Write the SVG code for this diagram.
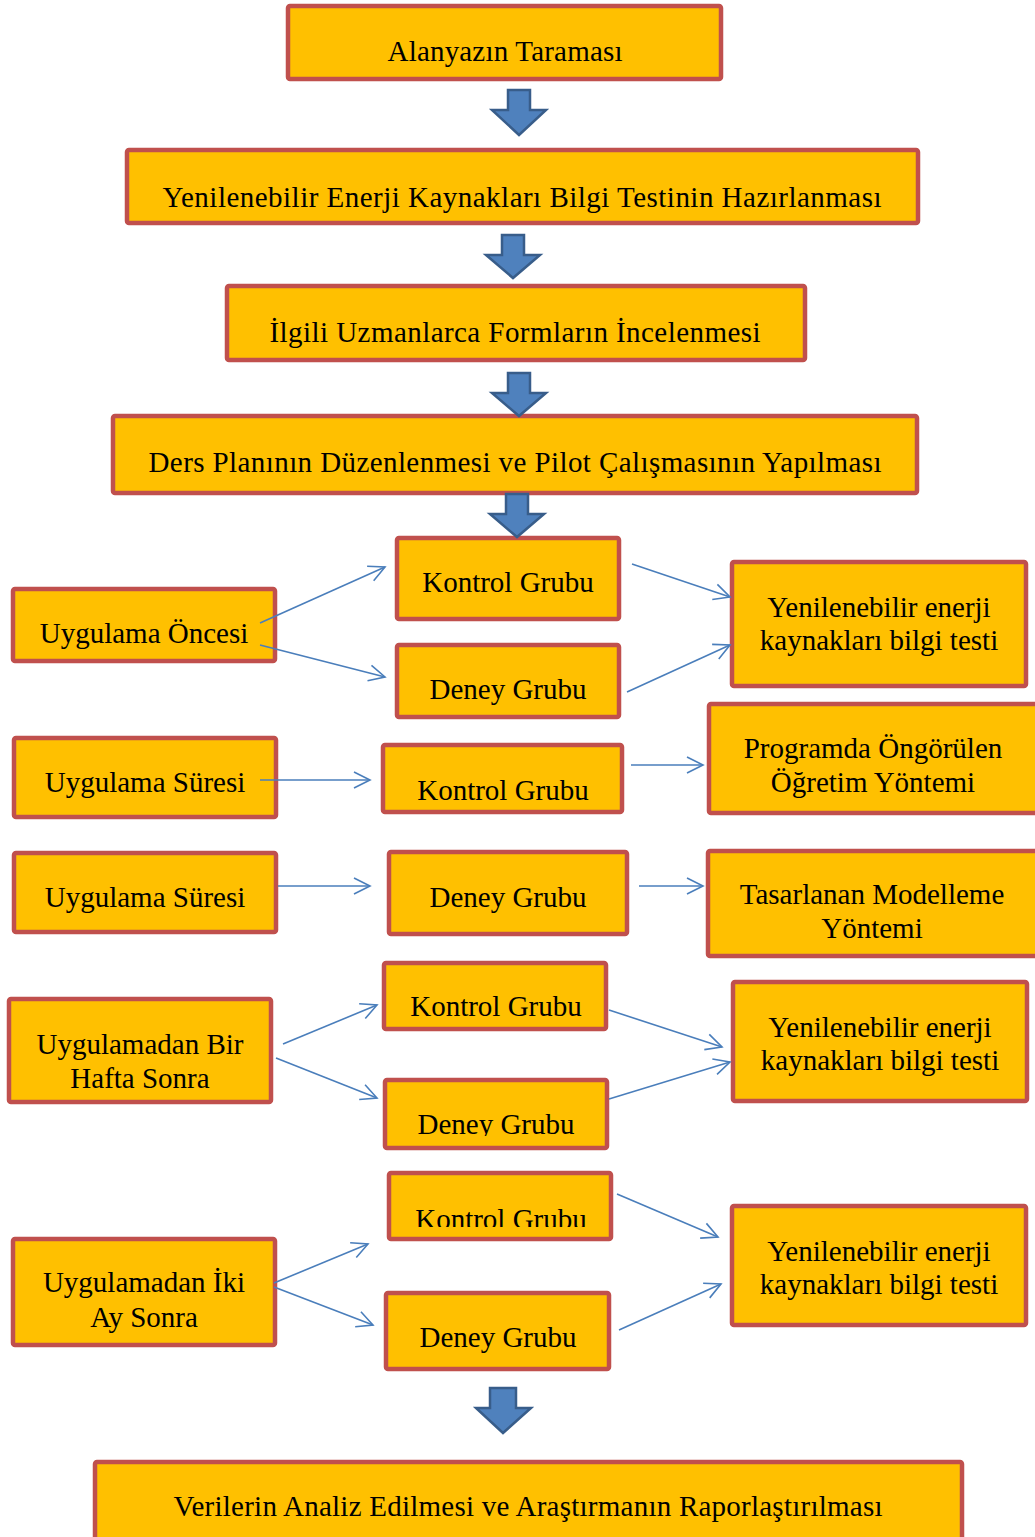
<svg xmlns="http://www.w3.org/2000/svg" width="1035" height="1537" viewBox="0 0 1035 1537">
<style>
.box{fill:#FFC000;stroke:#C0504D;stroke-width:4.5}
.t{font-family:"Liberation Serif","Times New Roman",serif;font-size:29px;fill:#000;text-anchor:middle}
.con{stroke:#4A7EBB;stroke-width:1.6;fill:none;marker-end:url(#ah)}
.blk{fill:#4F81BD;stroke:#385D8A;stroke-width:2.5;stroke-linejoin:miter}
</style>
<defs>
<marker id="ah" markerUnits="userSpaceOnUse" markerWidth="24" markerHeight="24" viewBox="-20 -12 24 24" refX="0" refY="0" orient="auto">
<path d="M-16,-8 L0,0 L-16,8" fill="none" stroke="#4A7EBB" stroke-width="1.6"/>
</marker>
<clipPath id="c2"><rect x="0" y="0" width="1035" height="1136"/></clipPath>
<clipPath id="c3"><rect x="0" y="0" width="1035" height="1227"/></clipPath>
</defs>
<rect width="1035" height="1537" fill="#fff"/>

<g id="n1"><rect class="box" x="288" y="6" width="433" height="73" rx="2"/><text class="t" x="505" y="61" textLength="235" lengthAdjust="spacing">Alanyazın Taraması</text></g>
<g id="n2"><rect class="box" x="127" y="150" width="791" height="73" rx="2"/><text class="t" x="522" y="207" textLength="719" lengthAdjust="spacing">Yenilenebilir Enerji Kaynakları Bilgi Testinin Hazırlanması</text></g>
<g id="n3"><rect class="box" x="227" y="286" width="578" height="74" rx="2"/><text class="t" x="515" y="342" textLength="491" lengthAdjust="spacing">İlgili Uzmanlarca Formların İncelenmesi</text></g>
<g id="n4"><rect class="box" x="113" y="416" width="804" height="77" rx="2"/><text class="t" x="515" y="472" textLength="733" lengthAdjust="spacing">Ders Planının Düzenlenmesi ve Pilot Çalışmasının Yapılması</text></g>

<g id="n5"><rect class="box" x="13" y="589" width="262" height="72" rx="2"/><text class="t" x="144" y="643">Uygulama Öncesi</text></g>
<g id="n6"><rect class="box" x="397" y="538" width="222" height="81" rx="2"/><text class="t" x="508" y="592">Kontrol Grubu</text></g>
<g id="n7"><rect class="box" x="397" y="645" width="222" height="72" rx="2"/><text class="t" x="508" y="699">Deney Grubu</text></g>
<g id="n8"><rect class="box" x="732" y="562" width="294" height="124" rx="2"/><text class="t" x="879" y="617">Yenilenebilir enerji</text><text class="t" x="879" y="650">kaynakları bilgi testi</text></g>

<g id="n9"><rect class="box" x="14" y="738" width="262" height="79" rx="2"/><text class="t" x="145" y="792">Uygulama Süresi</text></g>
<g id="n10"><rect class="box" x="383" y="745" width="239" height="67" rx="2"/><text class="t" x="503" y="800">Kontrol Grubu</text></g>
<g id="n11"><rect class="box" x="709" y="704" width="330" height="109" rx="2"/><text class="t" x="873" y="758">Programda Öngörülen</text><text class="t" x="873" y="792">Öğretim Yöntemi</text></g>

<g id="n12"><rect class="box" x="14" y="853" width="262" height="79" rx="2"/><text class="t" x="145" y="907">Uygulama Süresi</text></g>
<g id="n13"><rect class="box" x="389" y="852" width="238" height="82" rx="2"/><text class="t" x="508" y="907">Deney Grubu</text></g>
<g id="n14"><rect class="box" x="708" y="851" width="331" height="105" rx="2"/><text class="t" x="872" y="904">Tasarlanan Modelleme</text><text class="t" x="872" y="938">Yöntemi</text></g>

<g id="n15"><rect class="box" x="9" y="999" width="262" height="103" rx="2"/><text class="t" x="140" y="1054">Uygulamadan Bir</text><text class="t" x="140" y="1088">Hafta Sonra</text></g>
<g id="n16"><rect class="box" x="384" y="963" width="222" height="66" rx="2"/><text class="t" x="496" y="1016">Kontrol Grubu</text></g>
<g id="n17"><rect class="box" x="385" y="1080" width="222" height="68" rx="2"/><text class="t" x="496" y="1134" clip-path="url(#c2)">Deney Grubu</text></g>
<g id="n18"><rect class="box" x="733" y="982" width="294" height="119" rx="2"/><text class="t" x="880" y="1037">Yenilenebilir enerji</text><text class="t" x="880" y="1070">kaynakları bilgi testi</text></g>

<g id="n19"><rect class="box" x="13" y="1239" width="262" height="106" rx="2"/><text class="t" x="144" y="1292">Uygulamadan İki</text><text class="t" x="144" y="1327">Ay Sonra</text></g>
<g id="n20"><rect class="box" x="389" y="1173" width="222" height="66" rx="2"/><text class="t" x="501" y="1229" clip-path="url(#c3)">Kontrol Grubu</text></g>
<g id="n21"><rect class="box" x="386" y="1293" width="223" height="76" rx="2"/><text class="t" x="498" y="1347">Deney Grubu</text></g>
<g id="n22"><rect class="box" x="732" y="1206" width="294" height="119" rx="2"/><text class="t" x="879" y="1261">Yenilenebilir enerji</text><text class="t" x="879" y="1294">kaynakları bilgi testi</text></g>

<g id="n23"><rect class="box" x="95" y="1462" width="867" height="80" rx="2"/><text class="t" x="528" y="1516" textLength="709" lengthAdjust="spacing">Verilerin Analiz Edilmesi ve Araştırmanın Raporlaştırılması</text></g>

<g id="connectors">
<path class="blk" d="M508,90 H530 V110 H546 L519,135 L492,110 H508 Z"/>
<path class="blk" d="M502,235 H524 V255 H540 L513,278 L486,255 H502 Z"/>
<path class="blk" d="M508,373 H530 V393 H546 L519,416 L492,393 H508 Z"/>
<path class="blk" d="M506,494 H528 V514 H544 L517,537 L490,514 H506 Z"/>
<path class="blk" d="M490,1388 H516 V1408 H531 L503,1433 L476,1408 H490 Z"/>

<line class="con" x1="260" y1="623" x2="385" y2="567"/>
<line class="con" x1="260" y1="645" x2="385" y2="677"/>
<line class="con" x1="632" y1="564" x2="730" y2="597"/>
<line class="con" x1="627" y1="692" x2="730" y2="645"/>

<line class="con" x1="260" y1="780" x2="370" y2="780"/>
<line class="con" x1="631" y1="765" x2="703" y2="765"/>

<line class="con" x1="278" y1="886" x2="370" y2="886"/>
<line class="con" x1="639" y1="886" x2="703" y2="886"/>

<line class="con" x1="283" y1="1044" x2="377" y2="1005"/>
<line class="con" x1="276" y1="1058" x2="377" y2="1098"/>
<line class="con" x1="609" y1="1010" x2="722" y2="1047"/>
<line class="con" x1="609" y1="1099" x2="730" y2="1062"/>

<line class="con" x1="274" y1="1283" x2="368" y2="1244"/>
<line class="con" x1="274" y1="1287" x2="373" y2="1325"/>
<line class="con" x1="617" y1="1194" x2="718" y2="1237"/>
<line class="con" x1="619" y1="1330" x2="721" y2="1284"/>
</g>
</svg>
